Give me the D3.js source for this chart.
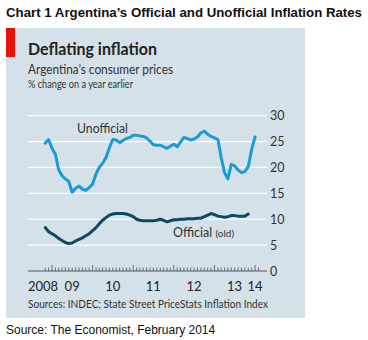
<!DOCTYPE html>
<html>
<head>
<meta charset="utf-8">
<script src="https://cdn.jsdelivr.net/npm/d3@7"></script>
<style>
  body { margin: 0; background: #fff; }
  svg { display: block; }
</style>
</head>
<body>
<div id="chart"></div>
<script>
////////// monthly series, Nov 2008 onwards //////////
const startMonth = new Date(2008, 10, 1);

const unofficial = [
  24.7, 25.4, 23.7, 22.5, 19.6, 18.4, 17.8, 17.3, 15.2, 16.0,
  16.4, 15.8, 15.6, 16.1, 16.8, 18.8, 20.0, 20.8, 21.9, 23.8,
  25.4, 25.3, 24.8, 25.2, 25.6, 25.8, 26.2, 26.2, 26.1, 26.0,
  25.7, 25.1, 24.4, 24.3, 24.3, 24.0, 23.7, 24.1, 24.5, 24.0,
  24.9, 25.8, 25.6, 25.3, 25.5, 25.9, 26.7, 27.0, 26.4, 26.0,
  25.7, 25.4, 22.0, 19.0, 17.8, 20.6, 20.3, 19.5, 19.0, 19.2,
  20.2, 23.5, 25.9
];

const official = [
  8.4, 7.6, 7.2, 6.8, 6.3, 5.9, 5.5, 5.3, 5.4, 5.8,
  6.1, 6.4, 6.8, 7.2, 7.8, 8.4, 9.1, 9.8, 10.3, 10.8,
  11.0, 11.1, 11.1, 11.1, 11.0, 10.8, 10.5, 10.0, 9.8, 9.7,
  9.7, 9.7, 9.7, 9.8, 10.0, 9.8, 9.5, 9.7, 9.9, 9.9,
  10.0, 10.0, 10.1, 10.1, 10.1, 10.2, 10.2, 10.5, 10.8, 11.1,
  10.9, 10.6, 10.5, 10.4, 10.5, 10.7, 10.7, 10.6, 10.6, 10.6,
  11.0
];

const yTicks = [0, 5, 10, 15, 20, 25, 30];
const yearLabels = ["2008", "09", "10", "11", "12", "13", "14"];

const monthOf = i => d3.timeMonth.offset(startMonth, i);

const width = 368, height = 340;
const svg = d3.select("#chart").append("svg")
  .attr("width", width)
  .attr("height", height);

const sans = "Lato, Noto Sans, sans-serif";

// small helper for fitted text
function label(xp, yp, str, size, opts = {}) {
  const t = svg.append("text")
    .attr("x", xp).attr("y", yp)
    .attr("font-family", opts.family || sans)
    .attr("font-size", size)
    .attr("font-weight", opts.bold ? "bold" : null)
    .attr("fill", opts.fill || "#333")
    .text(str);
  if (opts.len) t.attr("textLength", opts.len).attr("lengthAdjust", "spacingAndGlyphs");
  return t;
}

// page heading
label(6, 17, "Chart 1 Argentina\u2019s Official and Unofficial Inflation Rates", 13.5,
  { family: "Liberation Sans, Arial, sans-serif", bold: true, fill: "#111", len: 356 });

// panel
svg.append("rect")
  .attr("x", 6).attr("y", 28)
  .attr("width", 299).attr("height", 290)
  .attr("fill", "#d5e1e8");

svg.append("rect")
  .attr("x", 6).attr("y", 28)
  .attr("width", 9).attr("height", 29)
  .attr("fill", "#e3120b");

label(28, 55, "Deflating inflation", 17, { bold: true, fill: "#222", len: 129 });
label(28, 74, "Argentina\u2019s consumer prices", 13, { len: 145 });
label(28, 88, "% change on a year earlier", 10.5, { len: 105 });

////////// scales //////////
const x = d3.scaleTime()
  .domain([new Date(2008, 4, 30), new Date(2014, 3, 18)])
  .range([28, 267]);

const y = d3.scaleLinear()
  .domain([0, 30])
  .range([271, 115.7]);

// gridlines
svg.append("g")
  .selectAll("line")
  .data(yTicks.filter(d => d > 0))
  .enter().append("line")
  .attr("x1", 28).attr("x2", 267)
  .attr("y1", d => y(d)).attr("y2", d => y(d))
  .attr("stroke", "#fff")
  .attr("stroke-width", 1.2);

// y labels on the right
svg.append("g")
  .selectAll("text")
  .data(yTicks)
  .enter().append("text")
  .attr("x", 270)
  .attr("y", d => y(d))
  .attr("dy", "0.36em")
  .attr("font-family", sans)
  .attr("font-size", 12.5)
  .attr("fill", "#333")
  .text(d => d);

// baseline + month ticks
svg.append("line")
  .attr("x1", 28).attr("x2", 267)
  .attr("y1", y(0)).attr("y2", y(0))
  .attr("stroke", "#555")
  .attr("stroke-width", 1);

const months = d3.timeMonth.range(new Date(2008, 10, 1), new Date(2014, 2, 1));
svg.append("g")
  .selectAll("line")
  .data(months)
  .enter().append("line")
  .attr("x1", d => x(d)).attr("x2", d => x(d))
  .attr("y1", y(0))
  .attr("y2", d => y(0) - (d.getMonth() === 0 ? 6 : 3.5))
  .attr("stroke", "#555")
  .attr("stroke-width", 0.8);

// year labels: mid-year for full years, edges for the partial ones
const labelX = (lab, i) => {
  if (i === 0) return 28;
  const yr = 2008 + i;
  if (yr === 2014) return x(new Date(2014, 0, 1));
  return x(new Date(yr, 6, 1));
};

svg.append("g")
  .selectAll("text")
  .data(yearLabels)
  .enter().append("text")
  .attr("x", labelX)
  .attr("y", 291)
  .attr("text-anchor", (d, i) => i === 0 ? "start" : "middle")
  .attr("font-family", sans)
  .attr("font-size", 13)
  .attr("fill", "#222")
  .text(d => d);

////////// lines //////////
const line = d3.line()
  .x((d, i) => x(monthOf(i)))
  .y(d => y(d))
  .curve(d3.curveLinear);

svg.append("path")
  .datum(unofficial)
  .attr("d", line)
  .attr("fill", "none")
  .attr("stroke", "#1a9ad6")
  .attr("stroke-width", 3)
  .attr("stroke-linejoin", "round")
  .attr("stroke-linecap", "round");

svg.append("path")
  .datum(official)
  .attr("d", line)
  .attr("fill", "none")
  .attr("stroke", "#0e4a5e")
  .attr("stroke-width", 3)
  .attr("stroke-linejoin", "round")
  .attr("stroke-linecap", "round");

// series labels
label(77, 133, "Unofficial", 12.5, { len: 51 });

const off = label(173, 237, "", 12.5);
off.append("tspan").text("Official ");
off.append("tspan").attr("font-size", 10).text("(old)");

// sources
label(28, 308, "Sources: INDEC; State Street PriceStats Inflation Index", 10.5, { len: 240 });

label(6, 334, "Source: The Economist, February 2014", 12,
  { family: "Liberation Sans, Arial, sans-serif", fill: "#111" });
</script>
</body>
</html>
